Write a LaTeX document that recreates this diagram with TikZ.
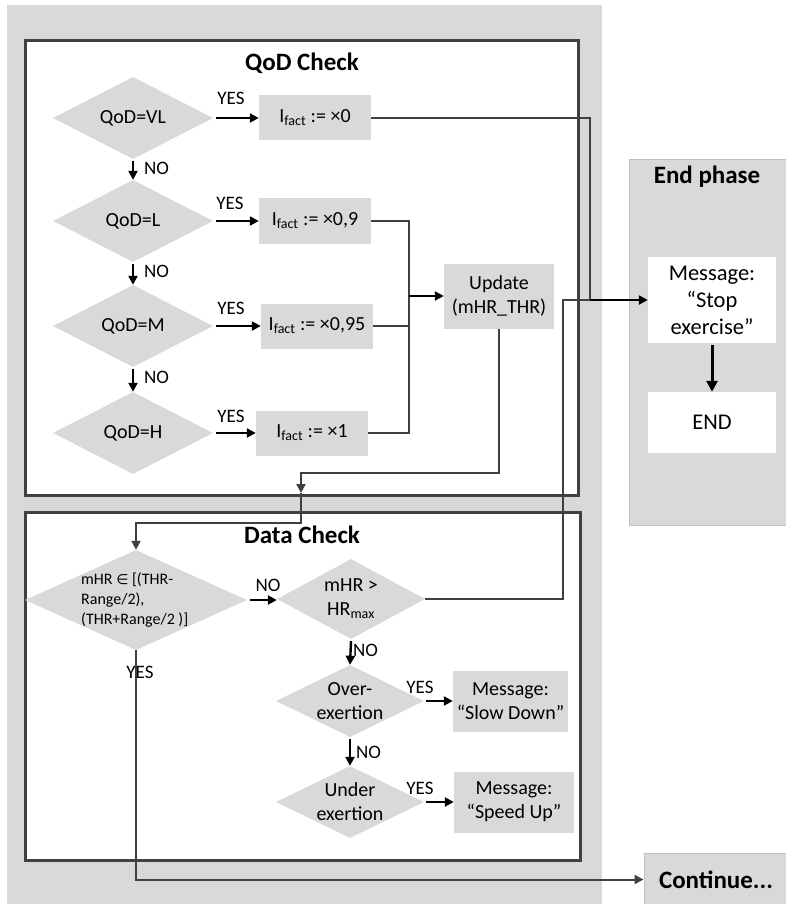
\documentclass[tikz,border=0pt]{standalone}
\usepackage{fontspec}
\setmainfont{Carlito}
\newfontfamily\symfont{DejaVu Sans}
\usetikzlibrary{shapes.geometric,arrows.meta}
\definecolor{panel}{RGB}{217,217,217}
\definecolor{wire}{RGB}{64,64,64}
\definecolor{rim}{RGB}{191,191,191}
\begin{document}
\begin{tikzpicture}[x=1pt,y=-1pt,
  every node/.style={inner sep=0pt},
  txt/.style={font=\fontsize{20}{24}\selectfont},
  heading/.style={font=\fontsize{25}{30}\selectfont\bfseries},
  lbl/.style={font=\fontsize{19}{22}\selectfont},
  dec/.style={diamond, fill=panel, aspect=2, txt, align=center},
  stepbox/.style={rectangle, fill=panel, txt, align=center},
  msgbox/.style={rectangle, fill=white, align=center, font=\fontsize{22.5}{27}\selectfont},
  frame/.style={draw=wire, line width=3pt},
  wire/.style={draw=wire, line width=2pt},
  tip/.style={-{Triangle[length=9pt,width=9pt]}},
  go/.style={tip, draw=black, line width=2.4pt},
  bold go/.style={-{Triangle[length=11pt,width=11pt]}, draw=black, line width=3pt}]
\useasboundingbox (0,0) rectangle (786,904);

% panels and frames
\fill[panel] (7,5) rectangle (602,904);
\draw[frame, fill=white] (25,41) rectangle (578,495);
\draw[frame, fill=white] (25,512) rectangle (580,860);
\draw[rim, line width=1pt, fill=panel] (629,160) rectangle (786,525);

\node[heading] (tq) at (302,63) {QoD Check};
\node[heading] (td) at (302,535) {Data Check};
\node[heading] (te) at (707,177) {End phase};

% QoD decisions
\node[dec, minimum width=160, minimum height=82] (qvl) at (133,118) {QoD=VL};
\node[dec, minimum width=160, minimum height=82] (ql) at (133,221) {QoD=L};
\node[dec, minimum width=160, minimum height=82] (qm) at (133,326) {QoD=M};
\node[dec, minimum width=160, minimum height=82] (qh) at (133,433) {QoD=H};

% factor boxes
\node[stepbox, minimum width=112, minimum height=45] (fvl) at (315,118) {I\textsubscript{fact} := ×0};
\node[stepbox, minimum width=112, minimum height=46] (fl) at (315,221) {I\textsubscript{fact} := ×0,9};
\node[stepbox, minimum width=112, minimum height=45] (fm) at (317,326) {I\textsubscript{fact} := ×0,95};
\node[stepbox, minimum width=112, minimum height=45] (fh) at (312,433) {I\textsubscript{fact} := ×1};
\node[stepbox, minimum width=110, minimum height=65] (upd) at (499,296) {Update\\(mHR\_THR)};

% end phase
\node[msgbox, minimum width=128, minimum height=86] (msg) at (712,300) {Message:\\“Stop\\exercise”};
\node[msgbox, minimum width=128, minimum height=61] (end) at (712,422.5) {END};

% data check decisions
\node[dec, minimum width=222, minimum height=100] (d1) at (136,600) {};
\node[font=\fontsize{16}{20}\selectfont, align=left, anchor=west] (d1t) at (81,600)
  {mHR {\symfont\fontsize{14}{20}\selectfont ∈} [(THR-\\Range/2),\\(THR+Range/2 )]};
\node[dec, minimum width=148, minimum height=80] (d2) at (351,599) {mHR >\\HR\textsubscript{max}};
\node[dec, minimum width=148, minimum height=72] (d3) at (350,701) {Over-\\exertion};
\node[dec, minimum width=148, minimum height=72] (d4) at (350,802) {Under\\exertion};

\node[stepbox, minimum width=115, minimum height=61] (slow) at (510.5,701) {Message:\\“Slow Down”};
\node[stepbox, minimum width=120, minimum height=61] (fast) at (514,802) {Message:\\“Speed Up”};

\node[rectangle, draw=rim, line width=1pt, fill=panel, minimum width=144, minimum height=53,
      font=\fontsize{25}{30}\selectfont\bfseries] (cont) at (716,879.5) {Continue...};

% QoD branches
\foreach \d/\f in {qvl/fvl, ql/fl, qm/fm, qh/fh}
  \draw[go] (\d.east) ++(3,0) -- (\f.west);
\node[lbl] (y1) at (231,98) {YES};
\node[lbl] (y2) at (230,203) {YES};
\node[lbl] (y3) at (231,308) {YES};
\node[lbl] (y4) at (231,416) {YES};
\foreach \a/\b in {qvl/ql, ql/qm, qm/qh}
  \draw[go] (\a.south) ++(0,2) -- (\b.north);
\node[lbl, anchor=west] (n1) at (144,168) {NO};
\node[lbl, anchor=west] (n2) at (144,271) {NO};
\node[lbl, anchor=west] (n3) at (144,377) {NO};

% factor merge into update
\coordinate (bus) at (409,296);
\draw[wire] (fl.east) -| (409,433) -- (fh.east);
\draw[wire] (fm.east) -- (409,326);
\draw[go] (bus) -- (upd.west);

% stop path
\coordinate (join) at (590,300);
\draw[wire] (fvl.east) -| (join);
\draw[go] (563,300) -- (msg.west);
\draw[bold go] (msg.south) ++(0,2) -- (end.north);

% update into data check
\coordinate (gate) at (301,493);
\draw[wire, tip] (upd.south) |- (301,473) -- (gate);
\draw[wire, tip] (gate) |- (136,523) -- (d1.north);

% data check branches
\draw[go] (d1.east) ++(3,0) -- (d2.west |- d1.east);
\node[lbl] (n4) at (268,585) {NO};
\draw[wire] (d2.east) -| (563,300) -- (join);
\draw[go] (d2.south) ++(0,2) -- (d3.north);
\node[lbl, anchor=west] (n5) at (353,650) {NO};
\draw[go] (d3.south) ++(0,2) -- (d4.north);
\node[lbl, anchor=west] (n6) at (356,752) {NO};
\draw[go] (d3.east) ++(2,0) -- (slow.west);
\node[lbl] (y5) at (420,687) {YES};
\draw[go] (d4.east) ++(2,0) -- (fast.west);
\node[lbl] (y6) at (420,788) {YES};

\node[lbl] (y7) at (140,672) {YES};
\draw[wire, tip] (d1.south) |- (cont.west);
\end{tikzpicture}
\end{document}
